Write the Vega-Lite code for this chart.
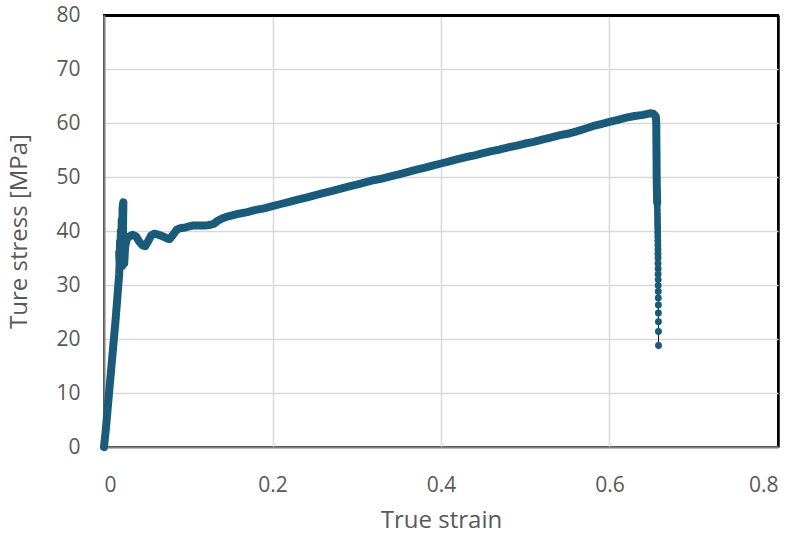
{
  "$schema": "https://vega.github.io/schema/vega-lite/v6.json",
  "autosize": {"type": "none"},
  "padding": {"left": 104, "top": 15, "right": 22, "bottom": 92},
  "width": 674,
  "height": 432,
  "background": "white",
  "config": {
    "view": {"stroke": "black", "strokeWidth": 2},
    "font": "Open Sans"
  },
  "data": {
    "values": [
      {"n":1,"strain":0,"stress":0},
      {"n":2,"strain":0.002,"stress":3},
      {"n":3,"strain":0.004,"stress":6.5},
      {"n":4,"strain":0.006,"stress":10},
      {"n":5,"strain":0.008,"stress":13.5},
      {"n":6,"strain":0.01,"stress":17},
      {"n":7,"strain":0.012,"stress":20.5},
      {"n":8,"strain":0.014,"stress":24},
      {"n":9,"strain":0.015,"stress":26},
      {"n":10,"strain":0.016,"stress":28},
      {"n":11,"strain":0.017,"stress":30},
      {"n":12,"strain":0.018,"stress":32},
      {"n":13,"strain":0.0185,"stress":34},
      {"n":14,"strain":0.018,"stress":36},
      {"n":15,"strain":0.019,"stress":35},
      {"n":16,"strain":0.019,"stress":38},
      {"n":17,"strain":0.0195,"stress":34},
      {"n":18,"strain":0.02,"stress":40},
      {"n":19,"strain":0.0205,"stress":36},
      {"n":20,"strain":0.021,"stress":42},
      {"n":21,"strain":0.0215,"stress":34},
      {"n":22,"strain":0.022,"stress":44},
      {"n":23,"strain":0.0225,"stress":45},
      {"n":24,"strain":0.023,"stress":45.3},
      {"n":25,"strain":0.0225,"stress":40},
      {"n":26,"strain":0.022,"stress":36},
      {"n":27,"strain":0.0215,"stress":33.5},
      {"n":28,"strain":0.023,"stress":38},
      {"n":29,"strain":0.024,"stress":34},
      {"n":30,"strain":0.025,"stress":37},
      {"n":31,"strain":0.027,"stress":38.5},
      {"n":32,"strain":0.03,"stress":39},
      {"n":33,"strain":0.034,"stress":39.3},
      {"n":34,"strain":0.038,"stress":39},
      {"n":35,"strain":0.042,"stress":38},
      {"n":36,"strain":0.046,"stress":37.3},
      {"n":37,"strain":0.049,"stress":37.2},
      {"n":38,"strain":0.052,"stress":38},
      {"n":39,"strain":0.056,"stress":39.2},
      {"n":40,"strain":0.06,"stress":39.5},
      {"n":41,"strain":0.065,"stress":39.3},
      {"n":42,"strain":0.07,"stress":39},
      {"n":43,"strain":0.075,"stress":38.6},
      {"n":44,"strain":0.078,"stress":38.5},
      {"n":45,"strain":0.082,"stress":39.3},
      {"n":46,"strain":0.086,"stress":40.2},
      {"n":47,"strain":0.09,"stress":40.5},
      {"n":48,"strain":0.095,"stress":40.6},
      {"n":49,"strain":0.1,"stress":40.8},
      {"n":50,"strain":0.105,"stress":41},
      {"n":51,"strain":0.11,"stress":41},
      {"n":52,"strain":0.115,"stress":41},
      {"n":53,"strain":0.12,"stress":41},
      {"n":54,"strain":0.125,"stress":41.1},
      {"n":55,"strain":0.13,"stress":41.3},
      {"n":56,"strain":0.135,"stress":41.9},
      {"n":57,"strain":0.14,"stress":42.3},
      {"n":58,"strain":0.145,"stress":42.6},
      {"n":59,"strain":0.15,"stress":42.8},
      {"n":60,"strain":0.16,"stress":43.2},
      {"n":61,"strain":0.17,"stress":43.5},
      {"n":62,"strain":0.18,"stress":43.9},
      {"n":63,"strain":0.19,"stress":44.2},
      {"n":64,"strain":0.2,"stress":44.6},
      {"n":65,"strain":0.21,"stress":45},
      {"n":66,"strain":0.22,"stress":45.4},
      {"n":67,"strain":0.23,"stress":45.8},
      {"n":68,"strain":0.24,"stress":46.2},
      {"n":69,"strain":0.25,"stress":46.6},
      {"n":70,"strain":0.26,"stress":47},
      {"n":71,"strain":0.27,"stress":47.4},
      {"n":72,"strain":0.28,"stress":47.8},
      {"n":73,"strain":0.29,"stress":48.2},
      {"n":74,"strain":0.3,"stress":48.6},
      {"n":75,"strain":0.31,"stress":49},
      {"n":76,"strain":0.32,"stress":49.4},
      {"n":77,"strain":0.33,"stress":49.7},
      {"n":78,"strain":0.34,"stress":50.1},
      {"n":79,"strain":0.35,"stress":50.5},
      {"n":80,"strain":0.36,"stress":50.9},
      {"n":81,"strain":0.37,"stress":51.3},
      {"n":82,"strain":0.38,"stress":51.7},
      {"n":83,"strain":0.39,"stress":52.1},
      {"n":84,"strain":0.4,"stress":52.5},
      {"n":85,"strain":0.41,"stress":52.9},
      {"n":86,"strain":0.42,"stress":53.3},
      {"n":87,"strain":0.43,"stress":53.7},
      {"n":88,"strain":0.44,"stress":54},
      {"n":89,"strain":0.45,"stress":54.4},
      {"n":90,"strain":0.46,"stress":54.8},
      {"n":91,"strain":0.47,"stress":55.1},
      {"n":92,"strain":0.48,"stress":55.5},
      {"n":93,"strain":0.49,"stress":55.8},
      {"n":94,"strain":0.5,"stress":56.2},
      {"n":95,"strain":0.51,"stress":56.5},
      {"n":96,"strain":0.52,"stress":56.9},
      {"n":97,"strain":0.53,"stress":57.3},
      {"n":98,"strain":0.54,"stress":57.7},
      {"n":99,"strain":0.55,"stress":58},
      {"n":100,"strain":0.56,"stress":58.4},
      {"n":101,"strain":0.57,"stress":58.9},
      {"n":102,"strain":0.58,"stress":59.4},
      {"n":103,"strain":0.59,"stress":59.8},
      {"n":104,"strain":0.6,"stress":60.2},
      {"n":105,"strain":0.61,"stress":60.6},
      {"n":106,"strain":0.62,"stress":61},
      {"n":107,"strain":0.63,"stress":61.3},
      {"n":108,"strain":0.64,"stress":61.5},
      {"n":109,"strain":0.648,"stress":61.8},
      {"n":110,"strain":0.652,"stress":61.7},
      {"n":111,"strain":0.655,"stress":61.2},
      {"n":112,"strain":0.6555,"stress":60},
      {"n":113,"strain":0.6556,"stress":58},
      {"n":114,"strain":0.6557,"stress":56},
      {"n":115,"strain":0.6558,"stress":54},
      {"n":116,"strain":0.6559,"stress":52},
      {"n":117,"strain":0.656,"stress":50},
      {"n":118,"strain":0.6562,"stress":48},
      {"n":119,"strain":0.6564,"stress":46.5},
      {"n":120,"strain":0.6566,"stress":45.3},
      {"n":121,"strain":0.6567,"stress":44.6},
      {"n":122,"strain":0.6568,"stress":43.9},
      {"n":123,"strain":0.6569,"stress":43.2},
      {"n":124,"strain":0.657,"stress":42.5},
      {"n":125,"strain":0.657,"stress":41.8},
      {"n":126,"strain":0.6571,"stress":41.1},
      {"n":127,"strain":0.6572,"stress":40.4},
      {"n":128,"strain":0.6572,"stress":39.7},
      {"n":129,"strain":0.6573,"stress":39},
      {"n":130,"strain":0.6574,"stress":38.2},
      {"n":131,"strain":0.6574,"stress":37.4},
      {"n":132,"strain":0.6575,"stress":36.6},
      {"n":133,"strain":0.6575,"stress":35.8},
      {"n":134,"strain":0.6576,"stress":35},
      {"n":135,"strain":0.6576,"stress":34},
      {"n":136,"strain":0.6577,"stress":33},
      {"n":137,"strain":0.6577,"stress":32},
      {"n":138,"strain":0.6578,"stress":31},
      {"n":139,"strain":0.6578,"stress":29.9},
      {"n":140,"strain":0.6579,"stress":28.8},
      {"n":141,"strain":0.6579,"stress":27.6},
      {"n":142,"strain":0.658,"stress":26.3},
      {"n":143,"strain":0.658,"stress":24.8},
      {"n":144,"strain":0.6581,"stress":23.2},
      {"n":145,"strain":0.6581,"stress":21.4},
      {"n":146,"strain":0.6582,"stress":18.8}
    ]
  },
  "encoding": {
    "x": {
      "field": "strain", "type": "quantitative",
      "scale": {"domain": [0, 0.8], "nice": false, "zero": false},
      "axis": {
        "values": [0, 0.2, 0.4, 0.6, 0.8], "format": "~g",
        "title": "True strain", "titleFontSize": 24, "titleFontWeight": "normal", "titleColor": "#595959", "titlePadding": 13,
        "labelFontSize": 21, "labelColor": "#595959", "labelPadding": 27, "ticks": false,
        "domainColor": "#808080", "domainWidth": 2,
        "gridColor": {"condition": {"test": "datum.value >= 0.79", "value": "black"}, "value": "#d9d9d9"},
        "gridWidth": {"condition": {"test": "datum.value >= 0.79", "value": 2.5}, "value": 1.5}
      }
    },
    "y": {
      "field": "stress", "type": "quantitative",
      "scale": {"domain": [0, 80], "nice": false},
      "axis": {
        "values": [0, 10, 20, 30, 40, 50, 60, 70, 80],
        "title": "Ture stress [MPa]", "titleFontSize": 24, "titleFontWeight": "normal", "titleColor": "#595959", "titlePadding": 24,
        "labelFontSize": 21, "labelColor": "#595959", "labelPadding": 24, "ticks": false,
        "domainColor": "#808080", "domainWidth": 2,
        "gridColor": {"condition": {"test": "datum.value >= 79", "value": "black"}, "value": "#d9d9d9"},
        "gridWidth": {"condition": {"test": "datum.value >= 79", "value": 3}, "value": 1.5}
      }
    },
    "order": {"field": "n", "type": "quantitative"}
  },
  "layer": [
    {
      "transform": [{"filter": "datum.strain < 0.6555 || datum.stress >= 45"}],
      "mark": {"type": "line", "color": "#1a5b7a", "strokeWidth": 8, "strokeCap": "round", "strokeJoin": "round", "clip": false}
    },
    {
      "transform": [{"filter": "datum.strain >= 0.6555 && datum.stress < 47"}],
      "mark": {"type": "line", "color": "#111111", "strokeWidth": 1, "clip": false}
    },
    {
      "transform": [{"filter": "datum.strain >= 0.6555"}],
      "mark": {"type": "point", "filled": true, "shape": "circle", "size": 48, "color": "#1a5b7a", "opacity": 1, "clip": false}
    }
  ]
}
